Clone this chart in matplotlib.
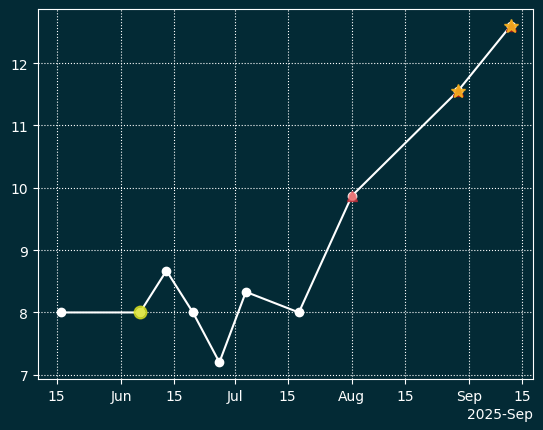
import numpy as np
import matplotlib.pyplot as plt
import matplotlib.dates as mdates

dates = np.array(['2025-05-16', '2025-06-06', '2025-06-13', '2025-06-20', '2025-06-27',
                  '2025-07-04', '2025-07-18', '2025-08-01', '2025-08-29', '2025-09-12'],
                 dtype='datetime64[D]')
values = [8.0, 8.0, 8.67, 8.0, 7.2, 8.33, 8.0, 9.87, 11.55, 12.6]

bg = '#032a35'
fig, ax = plt.subplots(figsize=(5.43, 4.31), dpi=100)
fig.subplots_adjust(left=0.07, right=0.982, top=0.977, bottom=0.118)
fig.patch.set_facecolor(bg)
ax.set_facecolor(bg)

ax.plot(dates, values, color='white', marker='o', markersize=6, linewidth=1.5, zorder=3)

# highlight markers
ax.plot(dates[1], values[1], 'o', color='#d8e020', markersize=9, alpha=0.8, zorder=4)
ax.plot(dates[7], values[7], '^', color='#c0303a', markersize=7, alpha=0.8, zorder=4)
ax.plot(dates[7], values[7], 'o', color='#f08080', markersize=5, alpha=0.8, zorder=4)
for i in (8, 9):
    ax.plot(dates[i], values[i], '^', color='#a01818', markersize=7, zorder=4)
    ax.plot(dates[i], values[i], '*', color='#f5b020', markersize=10, alpha=0.9, zorder=4)

loc = mdates.AutoDateLocator()
ax.xaxis.set_major_locator(loc)
ax.xaxis.set_major_formatter(mdates.ConciseDateFormatter(loc))
ax.grid(True, color='white', linestyle=':', linewidth=0.8)
ax.tick_params(colors='white')
ax.xaxis.get_offset_text().set_color('white')
for s in ax.spines.values():
    s.set_color('white')

plt.savefig('out.png', facecolor=bg)
